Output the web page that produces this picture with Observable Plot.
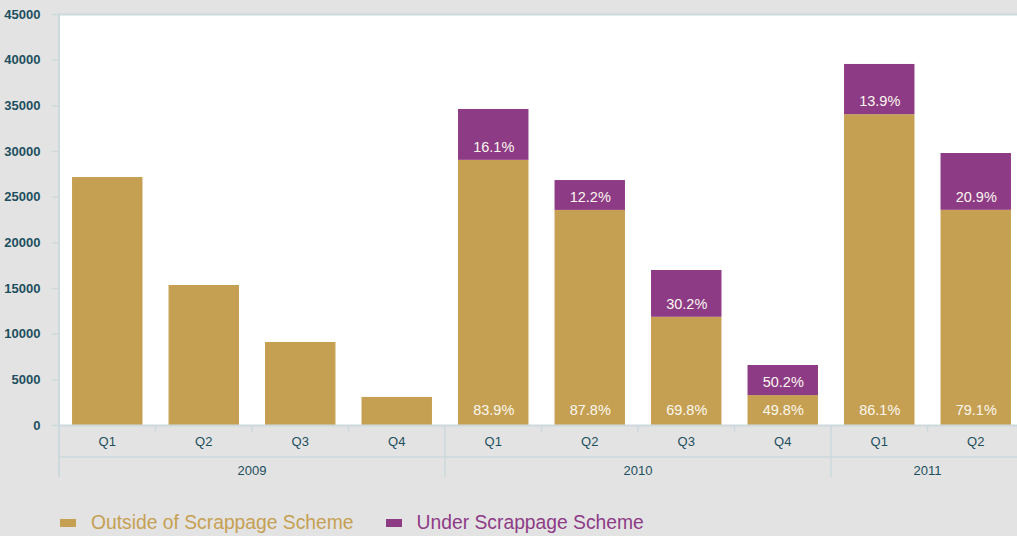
<!DOCTYPE html>
<html><head><meta charset="utf-8">
<script src="https://cdn.jsdelivr.net/npm/d3@7"></script>
<script src="https://cdn.jsdelivr.net/npm/@observablehq/plot@0.6"></script>
<style>
html,body{margin:0;padding:0;background:#e3e3e3;width:1017px;height:536px;overflow:hidden;font-family:"Liberation Sans",Arial,sans-serif}
#chart{position:absolute;left:0;top:0}
#legend{position:absolute;left:60px;top:512px;display:flex;align-items:center;font-size:19.3px;line-height:22px;white-space:nowrap}
.item{display:flex;align-items:center;margin-right:32px}
.sw{width:16px;height:8px;margin-right:15px}
</style></head><body>
<div id="chart"></div>
<div id="legend"></div>
<script>
// ---- data ----
const years    = ["2009","2009","2009","2009","2010","2010","2010","2010","2011","2011"];
const quarters = ["Q1","Q2","Q3","Q4","Q1","Q2","Q3","Q4","Q1","Q2"];
const outside  = [27150, 15330, 9090, 3070, 29030, 23550, 11850, 3280, 34030, 23560];
const under    = [0, 0, 0, 0, 5570, 3270, 5120, 3290, 5500, 6220];
const outsidePct = ["", "", "", "", "83.9%", "87.8%", "69.8%", "49.8%", "86.1%", "79.1%"];
const underPct   = ["", "", "", "", "16.1%", "12.2%", "30.2%", "50.2%", "13.9%", "20.9%"];
const seriesNames = ["Outside of Scrappage Scheme", "Under Scrappage Scheme"];
const seriesColors = ["#c6a052", "#8e3b86"];
const yTicks = [0, 5000, 10000, 15000, 20000, 25000, 30000, 35000, 40000, 45000];

// ---- derived tables ----
const keys = years.map((y, i) => y + " " + quarters[i]);
const rows = [];
keys.forEach((k, i) => {
  rows.push({key: k, series: seriesNames[0], value: outside[i]});
  rows.push({key: k, series: seriesNames[1], value: under[i]});
});
const labelsOut = keys.map((k, i) => ({key: k, y: 0, text: outsidePct[i]})).filter(d => d.text);
const labelsUnder = keys.map((k, i) => ({key: k, y: outside[i], text: underPct[i]})).filter(d => d.text);
const yearList = Array.from(new Set(years));

const axisColor = "#cdd9dc";
const textColor = "#1d4f5e";
const narrow = "'Liberation Sans Narrow','Liberation Sans',Arial,sans-serif";

function xStructure(index, scales, values, dims) {
  const x = scales.x, y = scales.y;
  const step = x(keys[1]) - x(keys[0]);
  const bw = x.bandwidth ? x.bandwidth() : step * 0.73;
  const center = k => x(k) + bw / 2;
  const y0 = y(0);
  const g = d3.create("svg:g");
  const left = center(keys[0]) - step / 2;
  const right = center(keys[keys.length - 1]) + step / 2;
  g.append("line").attr("x1", left).attr("x2", right + 20).attr("y1", y0 + 32).attr("y2", y0 + 32)
    .attr("stroke", axisColor).attr("stroke-width", 1.5);
  g.append("line").attr("x1", left).attr("x2", left).attr("y1", y(45000)).attr("y2", y0 + 52)
    .attr("stroke", axisColor).attr("stroke-width", 2);
  keys.forEach((k, i) => {
    const b = center(k) - step / 2;
    if (i > 0) {
      const isYear = years[i] !== years[i - 1];
      g.append("line").attr("x1", b).attr("x2", b).attr("y1", y0).attr("y2", isYear ? y0 + 52 : y0 + 7)
        .attr("stroke", axisColor).attr("stroke-width", 1.5);
    }
    g.append("text").attr("x", center(k)).attr("y", y0 + 21).attr("text-anchor", "middle")
      .attr("font-family", narrow).attr("font-size", 13).attr("fill", textColor).text(quarters[i]);
  });
  yearList.forEach(yr => {
    const ks = keys.filter((k, i) => years[i] === yr);
    const a = center(ks[0]) - step / 2;
    const b = center(ks[ks.length - 1]) + step / 2;
    g.append("text").attr("x", (a + b) / 2).attr("y", y0 + 50).attr("text-anchor", "middle")
      .attr("font-family", narrow).attr("font-size", 13).attr("fill", textColor).text(yr);
  });
  return g.node();
}

const chart = Plot.plot({
  width: 1017,
  height: 490,
  marginLeft: 59,
  marginRight: 0,
  marginTop: 14,
  marginBottom: 65,
  style: {background: "transparent", fontFamily: narrow, overflow: "visible"},
  x: {domain: keys, range: [59, 1024], paddingInner: 0.27, paddingOuter: 0.135, round: false, axis: null},
  y: {domain: [0, 45000], axis: null},
  color: {domain: seriesNames, range: seriesColors},
  marks: [
    Plot.frame({fill: "white", stroke: null}),
    Plot.ruleY([45000], {stroke: axisColor, strokeWidth: 2}),
    Plot.axisY({ticks: yTicks, tickSize: 7, tickPadding: 12, tickFormat: d => String(d),
      stroke: axisColor, fill: textColor, fontWeight: "bold", fontSize: 13, strokeWidth: 1.5}),
    Plot.barY(rows, {x: "key", y: "value", fill: "series"}),
    Plot.ruleY([0], {stroke: axisColor, strokeWidth: 2}),
    Plot.text(labelsOut, {x: "key", y: "y", text: "text", dy: -15, fill: "#fbf7ee", fontSize: 14.5, fontFamily: narrow}),
    Plot.text(labelsUnder, {x: "key", y: "y", text: "text", dy: -13, fill: "#fbf7ee", fontSize: 14.5, fontFamily: narrow}),
    xStructure
  ]
});
document.getElementById("chart").appendChild(chart);

const legend = document.getElementById("legend");
seriesNames.forEach((n, i) => {
  const it = document.createElement("div");
  it.className = "item";
  const sw = document.createElement("span");
  sw.className = "sw";
  sw.style.background = seriesColors[i];
  const t = document.createElement("span");
  t.textContent = n;
  t.style.color = seriesColors[i];
  it.appendChild(sw); it.appendChild(t);
  legend.appendChild(it);
});
</script>
</body></html>
